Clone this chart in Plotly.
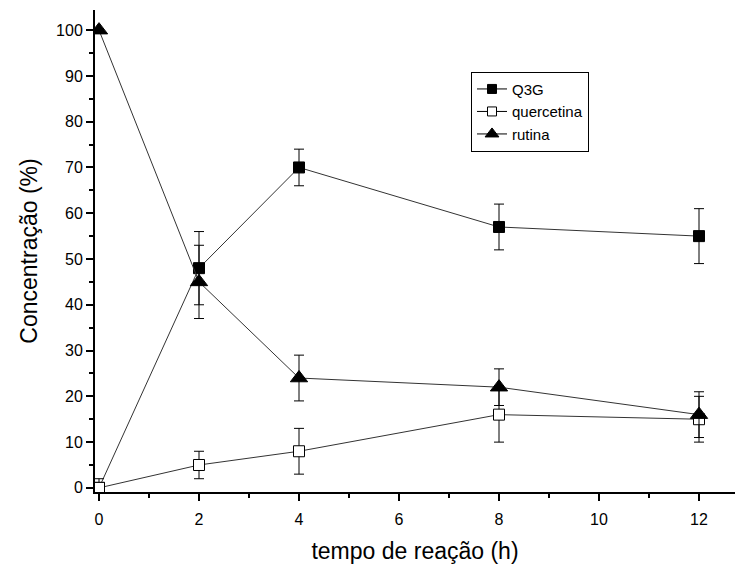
import plotly.graph_objects as go

tempo = [0, 2, 4, 8, 12]
q3g = [0, 48, 70, 57, 55]
q3g_err = [0, 8, 4, 5, 6]
quercetina = [0, 5, 8, 16, 15]
quercetina_err = [2, 3, 5, 6, 5]
rutina = [100, 45, 24, 22, 16]
rutina_err = [0, 8, 5, 4, 5]

font = "Liberation Sans, Arial, sans-serif"
line_col = "#333333"

fig = go.Figure()

def add(name, y, err, symbol, fill, size, lsize):
    fig.add_trace(go.Scatter(
        x=tempo, y=y, name=name, mode="lines+markers", showlegend=False,
        line=dict(color=line_col, width=1),
        marker=dict(symbol=symbol, size=size, color=fill,
                    line=dict(color="black", width=1)),
        error_y=dict(type="data", array=err, visible=True,
                     color="black", thickness=1, width=5),
    ))
    # legend entry with smaller symbol, as in the original
    fig.add_trace(go.Scatter(
        x=[None], y=[None], name=name, mode="lines+markers", showlegend=True,
        line=dict(color="black", width=1),
        marker=dict(symbol=symbol, size=lsize, color=fill,
                    line=dict(color="black", width=1)),
    ))

add("Q3G", q3g, q3g_err, "square", "black", 11, 9)
add("quercetina", quercetina, quercetina_err, "square", "white", 11, 9)
add("rutina", rutina, rutina_err, "triangle-up", "black", 15, 12)

fig.update_layout(
    width=737, height=565,
    margin=dict(l=95, r=2, t=10, b=73),
    paper_bgcolor="white", plot_bgcolor="white",
    font=dict(family=font, size=16, color="black"),
    showlegend=True,
    legend=dict(x=0.5875, y=0.872, xanchor="left", yanchor="top",
                bordercolor="black", borderwidth=1, bgcolor="white",
                font=dict(size=15), tracegroupgap=0, itemwidth=30),
)

fig.update_xaxes(
    range=[-0.08, 12.72], tickvals=[0, 2, 4, 6, 8, 10, 12],
    showline=True, linecolor="black", linewidth=2,
    ticks="outside", ticklen=7, tickwidth=2, tickcolor="black",
    ticklabelstandoff=5,
    minor=dict(dtick=1, tick0=0, ticks="outside", ticklen=4, tickwidth=2, tickcolor="black"),
    showgrid=False, zeroline=False,
    title=dict(text="tempo de reação (h)", font=dict(size=23), standoff=16),
)
fig.update_yaxes(
    range=[-0.9, 104.4], tickvals=list(range(0, 101, 10)),
    showline=True, linecolor="black", linewidth=2,
    ticks="outside", ticklen=7, tickwidth=2, tickcolor="black",
    minor=dict(dtick=5, tick0=0, ticks="outside", ticklen=4, tickwidth=2, tickcolor="black"),
    showgrid=False, zeroline=False,
    title=dict(text="Concentração (%)", font=dict(size=23), standoff=12),
)

fig.write_html("out.html")
